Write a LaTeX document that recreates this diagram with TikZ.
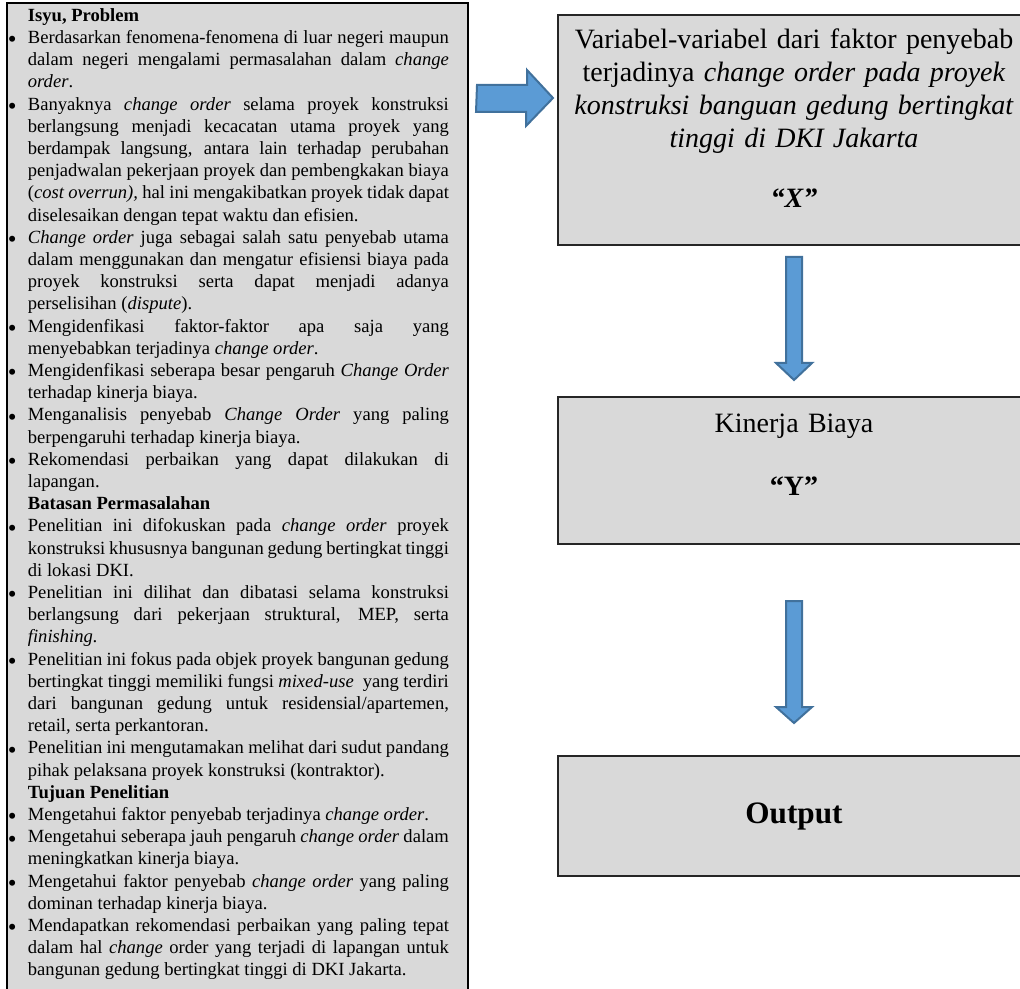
\documentclass[tikz,border=0pt]{standalone}
\usepackage{fontspec}
\setmainfont{Liberation Serif}
\usetikzlibrary{positioning,calc}
\definecolor{abumuda}{HTML}{D9D9D9}
\definecolor{biru}{HTML}{5B9BD5}
\definecolor{birutua}{HTML}{41719C}
\newcommand{\titikbutir}{\raisebox{-2.2pt}{\fontsize{12.5}{12}\selectfont\textbullet}}
\newenvironment{butir}{\begin{list}{\titikbutir}{\setlength{\leftmargin}{10pt}\setlength{\labelwidth}{10pt}\setlength{\labelsep}{0pt}\setlength{\itemsep}{0pt}\setlength{\parsep}{0pt}\setlength{\topsep}{0pt}\setlength{\partopsep}{0pt}\renewcommand{\makelabel}[1]{##1\hfil}}}{\end{list}}

\begin{document}
\begin{tikzpicture}[x=0.5pt,y=-0.5pt]
\tikzset{kotak/.style={draw=black!85, line width=1pt, fill=abumuda, outer sep=0, inner sep=0}}
\tikzset{teks/.style={inner sep=0, align=center, text width=232pt, font=\fontsize{14}{16.5}\selectfont}}
\tikzset{panah/.style={fill=biru, draw=birutua, line width=1pt, line join=miter}}
\useasboundingbox (0,0) rectangle (1020,988);
% kotak kiri
\node[kotak, line width=0.8pt, draw=black, anchor=north west, minimum width=230.5pt, minimum height=500pt] (kiri) at (7,3) {};
\node[anchor=north west, inner sep=0] (isi) at ($(kiri.north west)+(0.5,5)$) {%
\begin{minipage}{220.5pt}
\fontsize{9.3}{11.1}\selectfont
\hyphenpenalty=10000 \exhyphenpenalty=10000 \tolerance=10000
\begin{butir}
\item[] \textbf{Isyu, Problem}
\item Berdasarkan fenomena-fenomena di luar negeri maupun\linebreak dalam negeri mengalami permasalahan dalam \textit{change}\linebreak \textit{order}.
\item Banyaknya \textit{change order} selama proyek konstruksi\linebreak berlangsung menjadi kecacatan utama proyek yang\linebreak berdampak langsung, antara lain terhadap perubahan\linebreak penjadwalan pekerjaan proyek dan pembengkakan biaya\linebreak (\textit{cost overrun),} hal ini mengakibatkan proyek tidak dapat\linebreak diselesaikan dengan tepat waktu dan efisien.
\item \textit{Change order} juga sebagai salah satu penyebab utama\linebreak dalam menggunakan dan mengatur efisiensi biaya pada\linebreak proyek konstruksi serta dapat menjadi adanya\linebreak perselisihan (\textit{dispute}).
\item Mengidenfikasi faktor-faktor apa saja yang\linebreak menyebabkan terjadinya \textit{change order}.
\item Mengidenfikasi seberapa besar pengaruh \textit{Change Order}\linebreak terhadap kinerja biaya.
\item Menganalisis penyebab \textit{Change Order} yang paling\linebreak berpengaruhi terhadap kinerja biaya.
\item Rekomendasi perbaikan yang dapat dilakukan di\linebreak lapangan.
\item[] \textbf{Batasan Permasalahan}
\item Penelitian ini difokuskan pada \textit{change order} proyek\linebreak konstruksi khususnya bangunan gedung bertingkat tinggi\linebreak di lokasi DKI.
\item Penelitian ini dilihat dan dibatasi selama konstruksi\linebreak berlangsung dari pekerjaan struktural, MEP, serta\linebreak \textit{finishing.}
\item Penelitian ini fokus pada objek proyek bangunan gedung\linebreak bertingkat tinggi memiliki fungsi \textit{mixed-use}\ \ yang terdiri\linebreak dari bangunan gedung untuk residensial/apartemen,\linebreak retail, serta perkantoran.
\item Penelitian ini mengutamakan melihat dari sudut pandang\linebreak pihak pelaksana proyek konstruksi (kontraktor).
\item[] \textbf{Tujuan Penelitian}
\item Mengetahui faktor penyebab terjadinya \textit{change order}.
\item Mengetahui seberapa jauh pengaruh \textit{change order} dalam\linebreak meningkatkan kinerja biaya.
\item Mengetahui faktor penyebab \textit{change order} yang paling\linebreak dominan terhadap kinerja biaya.
\item Mendapatkan rekomendasi perbaikan yang paling tepat\linebreak dalam hal \textit{change} order yang terjadi di lapangan untuk\linebreak bangunan gedung bertingkat tinggi di DKI Jakarta.
\end{butir}
\end{minipage}};
% kotak kanan
\node[kotak, minimum width=236pt, minimum height=115pt] (kotakx) at (794,130) {};
\node[teks, below=6.5pt of kotakx.north] (teksx) {Variabel-variabel dari faktor penyebab\\ terjadinya \textit{change order pada proyek}\\ \textit{konstruksi banguan gedung bertingkat}\\ \textit{tinggi di DKI Jakarta}\\[13.5pt] \textbf{\textit{“X”}}};
\node[kotak, minimum width=236pt, minimum height=73.5pt] (kinerja) at (794,470.5) {};
\node[teks, below=8.5pt of kinerja.north] (teksy) {Kinerja Biaya\\[15pt] \textbf{“Y”}};
\node[kotak, minimum width=236pt, minimum height=60pt, font=\fontsize{15.6}{18}\selectfont\bfseries] (kotakout) at (794,816) {Output};
% panah
\draw[panah] ($(kiri.north east)+(9,82)$) -- ++(50,0) -- ++(0,-15) -- ($(kotakx.west)+(-5,-32)$) -- ++(-27,28) -- ++(0,-14) -- ++(-50,0) -- cycle;
\draw[panah] ($(kotakx.south)+(-8,12)$) -- ++(16,0) -- ++(0,106) -- ++(10,0) -- ($(kinerja.north)+(0,-17)$) -- ++(-18,-17) -- ++(10,0) -- cycle;
\draw[panah] ($(kinerja.south)+(-8,57)$) -- ++(16,0) -- ++(0,106) -- ++(10,0) -- ($(kotakout.north)+(0,-33)$) -- ++(-18,-16) -- ++(10,0) -- cycle;
\end{tikzpicture}
\end{document}
